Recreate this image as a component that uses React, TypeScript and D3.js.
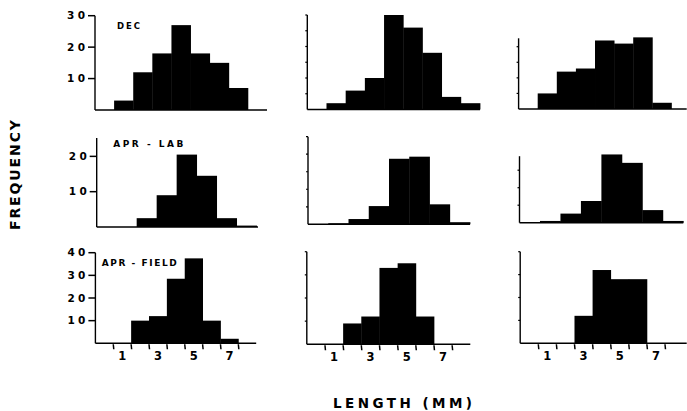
import React from "react";
import * as d3 from "d3";

// Row titles and axis labels
const rowTitles = ["DEC", "APR - LAB", "APR - FIELD"];
const xTickLabels = [1, 3, 5, 7];
const xBinEdges = [0.5, 1.5, 2.5, 3.5, 4.5, 5.5, 6.5, 7.5];
const yLabelTicksRow1 = [10, 20, 30];
const yLabelTicksRow2 = [10, 20];
const yLabelTicksRow3 = [10, 20, 30, 40];

// Frequencies per length bin (bins 1 mm wide, centred on integer mm)
const decA = [3, 12, 18, 27, 18, 15, 7]; // centres 1..7
const decB = [2, 6, 10, 30, 26, 18, 4, 2]; // centres 1..8
const decC = [5, 12, 13, 22, 21, 23, 2]; // centres 1..7
const labA = [2.5, 9, 20.5, 14.5, 2.5, 0.4]; // centres 2..7
const labB = [0.3, 1.5, 5.2, 18.7, 19.3, 5.7, 0.6]; // centres 1..7
const labC = [0.5, 2.6, 6.2, 19.5, 17.1, 3.6, 0.5]; // centres 1..7
const fieldA = [10, 12, 28.5, 37.5, 10, 2]; // centres 2..7
const fieldB = [9, 12, 33, 35, 12]; // centres 2..6
const fieldC = [12, 32, 28, 28]; // centres 3..6

const panelData = [decA, decB, decC, labA, labB, labC, fieldA, fieldB, fieldC];
const firstCentre = [1, 1, 1, 2, 1, 1, 2, 2, 3];

// Layout (pixel ranges for each panel's scales)
const xPx = [
  [95, 267], [307.3, 480], [518.6, 686.7],
  [96.7, 258], [308, 470], [519.5, 683.3],
  [95.4, 256.2], [306.8, 470.3], [520.2, 686.7],
];
const xEnd = [8.5, 8.5, 8.3, 7.57, 7.5, 7.5, 8.5, 8.5, 8.7];
const yPx = [
  [110, 15.7], [109.5, 15], [109, 38.3],
  [227, 138], [224.3, 136.7], [222.7, 156.2],
  [343.3, 252.7], [344.3, 251.7], [343.3, 251.7],
];
const yTop = [30, 30, 22.7, 25.2, 25, 19, 40, 40, 40];
const minorStep = [5, 5, 5, 5, 5, 5, 10, 10, 10];
const titlePos = [
  { x: 117, y: 29.3, w: 23, fs: 8.5 },
  { x: 113.3, y: 146.7, w: 70, fs: 9 },
  { x: 101.7, y: 266, w: 75, fs: 9 },
];

const FONT = "'DejaVu Sans', Verdana, sans-serif";

function Panel({ i }: { i: number }) {
  const row = Math.floor(i / 3);
  const col = i % 3;
  const x = d3.scaleLinear().domain([-0.5, xEnd[i]]).range(xPx[i]);
  const y = d3.scaleLinear().domain([0, yTop[i]]).range(yPx[i]);
  const data = panelData[i];
  const c0 = firstCentre[i];
  const base = y(0);
  const ax = x(-0.5);
  const labelTicks = row === 0 ? yLabelTicksRow1 : row === 1 ? yLabelTicksRow2 : yLabelTicksRow3;
  const minor = d3.range(minorStep[i], yTop[i] + 0.01, minorStep[i]);

  return (
    <g>
      {data.map((v, k) => {
        const c = c0 + k;
        const x0 = x(c - 0.5);
        const x1 = x(c + 0.5);
        return (
          <rect
            key={k}
            x={x0}
            y={y(v)}
            width={x1 - x0 + 0.4}
            height={Math.max(0, base - y(v))}
            fill="#000"
          />
        );
      })}
      {/* axes */}
      <line x1={ax} x2={ax} y1={base} y2={y(yTop[i])} stroke="#000" strokeWidth={1.4} />
      <line x1={ax} x2={x(xEnd[i])} y1={base} y2={base} stroke="#000" strokeWidth={1.5} />
      {col === 0
        ? labelTicks.map((t) => (
            <g key={t}>
              <line x1={ax - 7} x2={ax} y1={y(t)} y2={y(t)} stroke="#000" strokeWidth={1.5} />
              <text
                x={ax - 10}
                y={y(t)}
                dy="0.36em"
                textAnchor="end"
                fontFamily={FONT}
                fontWeight="bold"
                fontSize={10.5}
                textLength={18}
                lengthAdjust="spacing"
              >
                {t}
              </text>
            </g>
          ))
        : minor.map((t) => (
            <line key={t} x1={ax - 2} x2={ax} y1={y(t)} y2={y(t)} stroke="#000" strokeWidth={1.2} />
          ))}
      {row === 2 && (
        <g>
          {xBinEdges.map((e) => (
            <line key={e} x1={x(e)} x2={x(e) + 0.5} y1={base + 1} y2={base + 6} stroke="#000" strokeWidth={1.5} />
          ))}
          {xTickLabels.map((t) => (
            <text
              key={t}
              x={x(t)}
              y={base + 16.5}
              textAnchor="middle"
              fontFamily={FONT}
              fontWeight="bold"
              fontSize={11.5}
            >
              {t}
            </text>
          ))}
        </g>
      )}
      {col === 0 && (
        <text
          x={titlePos[row].x}
          y={titlePos[row].y}
          fontFamily={FONT}
          fontWeight="bold"
          fontSize={titlePos[row].fs}
          textLength={titlePos[row].w}
          lengthAdjust="spacing"
        >
          {rowTitles[row]}
        </text>
      )}
    </g>
  );
}

export default function App() {
  return (
    <svg
      width={687}
      height={411}
      viewBox="0 0 687 411"
      style={{ position: "absolute", left: 0, top: 0, background: "#fff" }}
    >
      <rect x={0} y={0} width={687} height={411} fill="#fff" />
      {d3.range(9).map((i) => (
        <Panel key={i} i={i} />
      ))}
      <text
        transform="translate(20,175) rotate(-90)"
        textAnchor="middle"
        fontFamily={FONT}
        fontSize={14}
        fontWeight={600}
        textLength={110}
        lengthAdjust="spacing"
      >
        FREQUENCY
      </text>
      <text
        x={333}
        y={407.7}
        fontFamily={FONT}
        fontSize={13.5}
        fontWeight={600}
        textLength={139}
        lengthAdjust="spacing"
      >
        LENGTH (MM)
      </text>
    </svg>
  );
}
